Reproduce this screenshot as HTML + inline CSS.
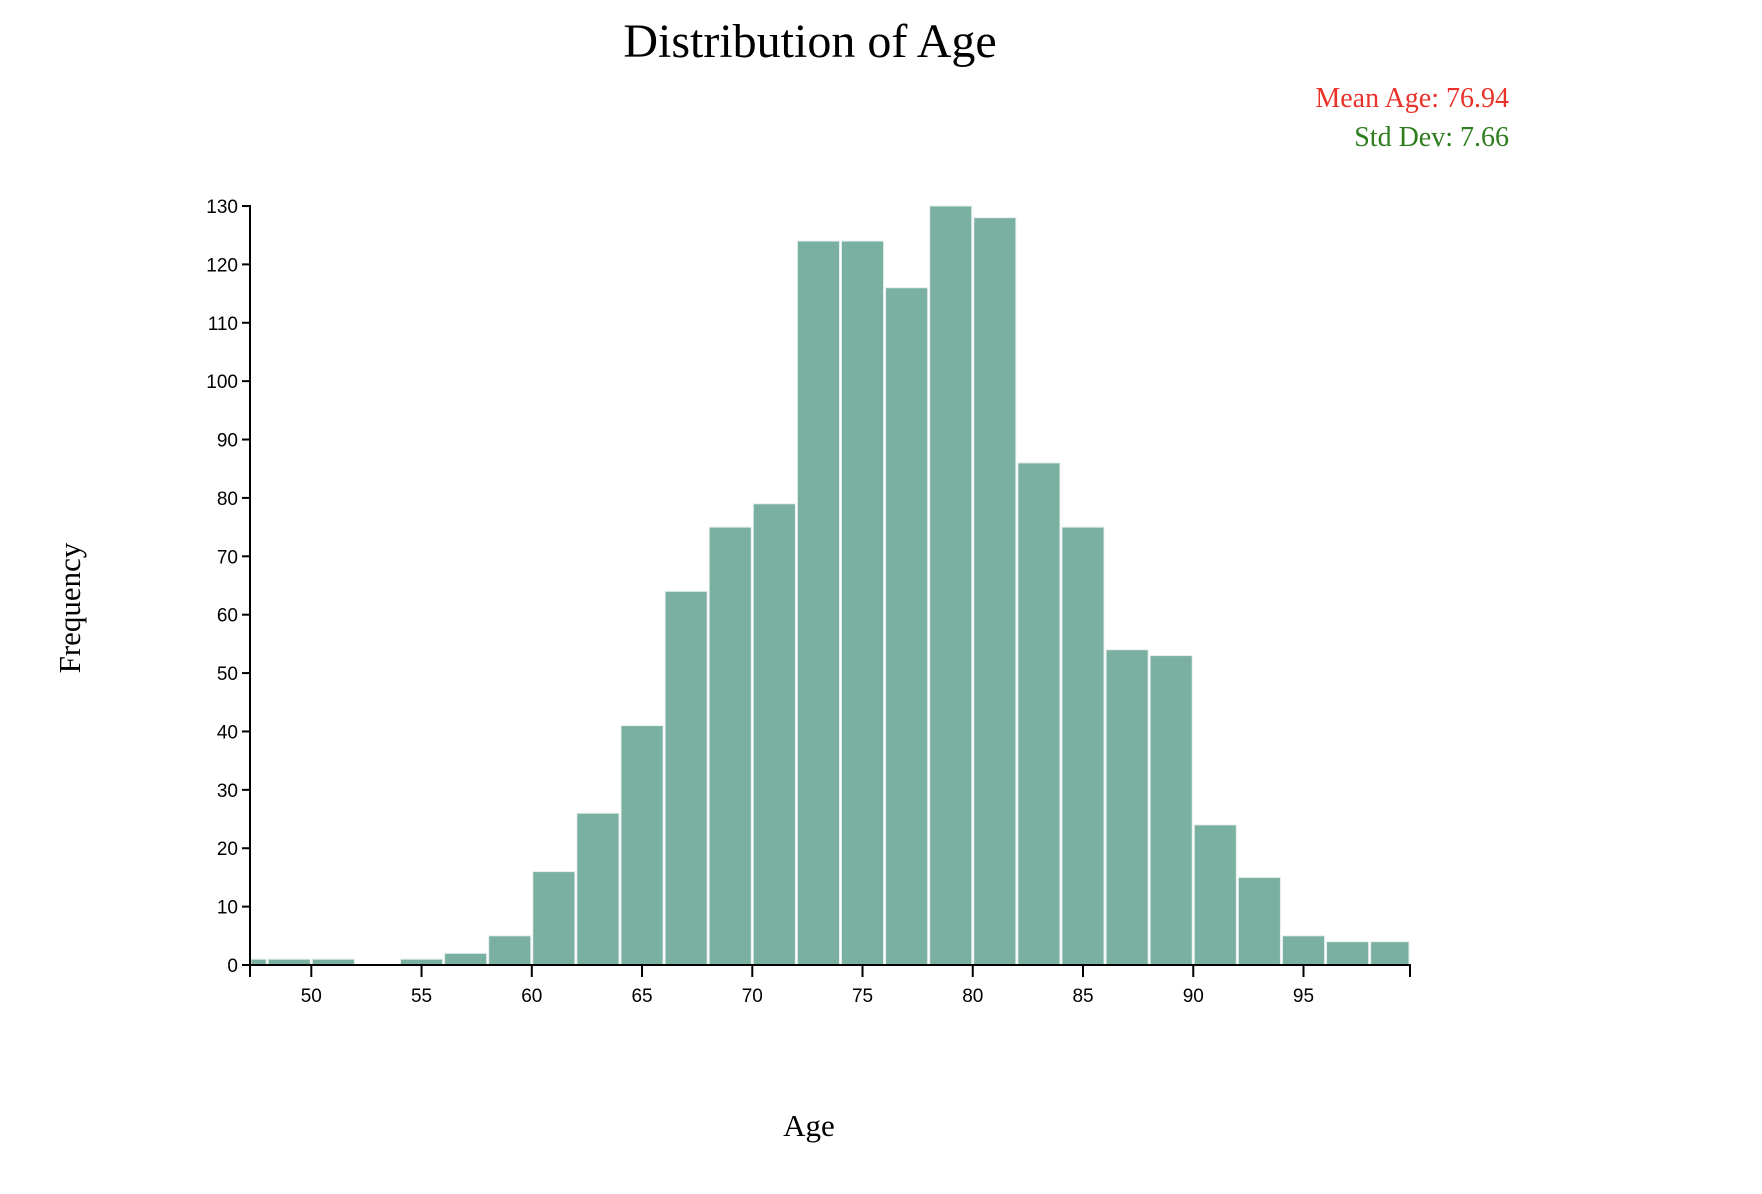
<!DOCTYPE html>
<html><head><meta charset="utf-8"><style>
body{margin:0;background:#fff}
svg{display:block}
.tick text{font-family:"Liberation Sans",sans-serif;font-size:19px;fill:#000}
.serif{font-family:"Liberation Serif",serif}
</style></head><body>
<svg id="chart" width="1762" height="1194">
<text class="serif" x="810" y="57" font-size="48" text-anchor="middle">Distribution of Age</text>
<text class="serif" x="1509" y="107" font-size="28" fill="#e8322a" text-anchor="end">Mean Age: 76.94</text>
<text class="serif" x="1509" y="146" font-size="28" fill="#2e7d1e" text-anchor="end">Std Dev: 7.66</text>
<text class="serif" x="0" y="0" font-size="31" text-anchor="middle" transform="translate(80,608) rotate(-90)">Frequency</text>
<text class="serif" x="809" y="1136" font-size="31" text-anchor="middle">Age</text>
<g id="bars"></g><g id="axes"></g>
</svg>
<script>
const binStarts = [46,48,50,52,54,56,58,60,62,64,66,68,70,72,74,76,78,80,82,84,86,88,90,92,94,96,98];
const counts = [1,1,1,0,1,2,5,16,26,41,64,75,79,124,124,116,130,128,86,75,54,53,24,15,5,4,4];
const binWidth = 2;
const xTicks = [50,55,60,65,70,75,80,85,90,95];
const yTicks = [0,10,20,30,40,50,60,70,80,90,100,110,120,130];
const xMin = 47.22, xMax = 99.83, yMax = 130;
const L=250, R=1410, T=206, B=965;
const x = v => L + (v - xMin) / (xMax - xMin) * (R - L);
const y = v => B - v / yMax * (B - T);
const NS = "http://www.w3.org/2000/svg";
const bars = document.getElementById('bars'), axes = document.getElementById('axes');
function mk(tag, attrs, parent){const e=document.createElementNS(NS,tag);for(const k in attrs)e.setAttribute(k,attrs[k]);parent.appendChild(e);return e;}
binStarts.forEach((s,i)=>{
  if(counts[i]===0) return;
  const x0 = x(Math.max(s,xMin)), x1 = x(Math.min(s+binWidth,xMax));
  const r = mk('rect',{x:x0+1,y:y(counts[i]),width:Math.max(0,x1-x0-2),height:B-y(counts[i]),fill:'#7ab0a2',stroke:'#e6f0ec','stroke-width':1},bars);
  
  
});
const ya = mk('path',{d:`M${L-8},${T}H${L}V${B}H${L-8}`,fill:'none',stroke:'#000','stroke-width':2},axes);


yTicks.forEach(t=>{
  const g = mk('g',{class:'tick'},axes);
  
  
  mk('line',{x1:L-8,x2:L,y1:y(t),y2:y(t),stroke:'#000','stroke-width':2},g);
  const tx = mk('text',{x:L-12,y:y(t)+7,'text-anchor':'end'},g); tx.textContent=t;
});
const xa = mk('path',{d:`M${L},${B+12}V${B}H${R}V${B+12}`,fill:'none',stroke:'#000','stroke-width':2},axes);


xTicks.forEach(t=>{
  const g = mk('g',{class:'tick'},axes);
  
  
  mk('line',{x1:x(t),x2:x(t),y1:B,y2:B+12,stroke:'#000','stroke-width':2},g);
  const tx = mk('text',{x:x(t),y:B+37,'text-anchor':'middle'},g); tx.textContent=t;
});
</script>
</body></html>
